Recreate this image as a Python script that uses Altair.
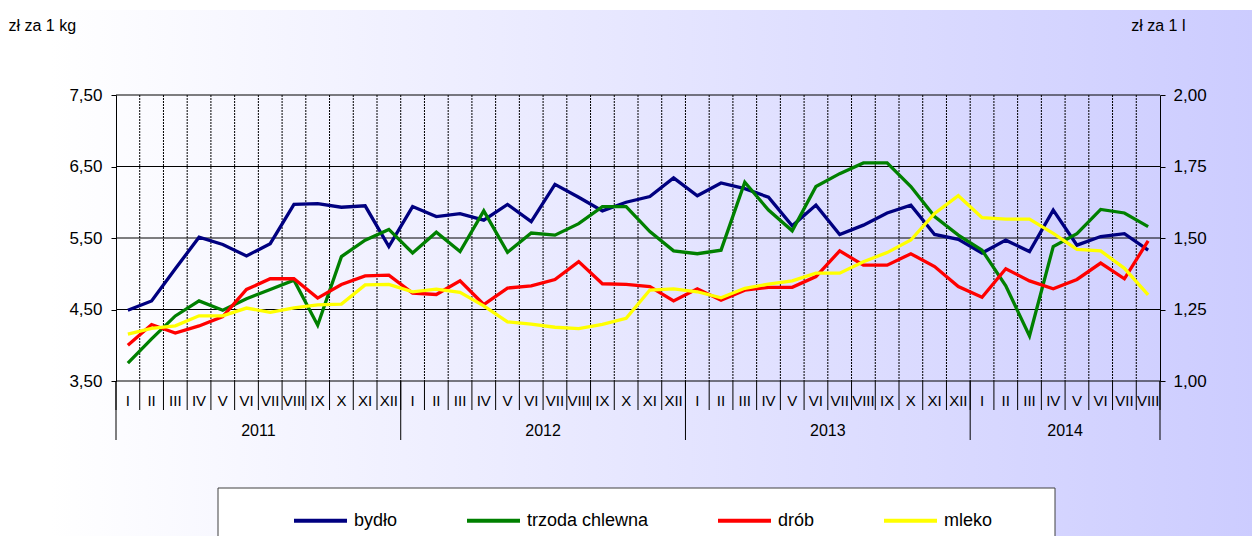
import altair as alt
import pandas as pd

# ---- data ----
month_names = ["I", "II", "III", "IV", "V", "VI", "VII", "VIII", "IX", "X", "XI", "XII"]
years = ["2011", "2012", "2013", "2014"]
months_per_year = [12, 12, 12, 8]

series_names = ["bydło", "trzoda chlewna", "drób", "mleko"]
series_colors = ["#000080", "#008000", "#ff0000", "#ffff00"]

bydlo = [4.49, 4.62, 5.07, 5.51, 5.41, 5.25, 5.42, 5.97, 5.98, 5.93, 5.95, 5.38,
         5.94, 5.80, 5.84, 5.75, 5.97, 5.73, 6.25, 6.07, 5.88, 6.00, 6.08, 6.34,
         6.09, 6.27, 6.19, 6.07, 5.67, 5.96, 5.55, 5.68, 5.85, 5.96, 5.55, 5.48,
         5.29, 5.47, 5.31, 5.89, 5.40, 5.52, 5.56, 5.33]
trzoda = [3.75, 4.09, 4.41, 4.62, 4.49, 4.65, 4.78, 4.91, 4.28, 5.24, 5.47, 5.62,
          5.29, 5.58, 5.31, 5.88, 5.30, 5.57, 5.54, 5.70, 5.94, 5.94, 5.59, 5.32,
          5.28, 5.33, 6.28, 5.89, 5.60, 6.22, 6.40, 6.55, 6.55, 6.22, 5.80, 5.54,
          5.33, 4.83, 4.13, 5.38, 5.56, 5.90, 5.85, 5.66]
drob = [4.00, 4.29, 4.17, 4.27, 4.40, 4.78, 4.93, 4.93, 4.66, 4.85, 4.97, 4.98,
        4.73, 4.71, 4.90, 4.57, 4.80, 4.83, 4.92, 5.17, 4.86, 4.85, 4.82, 4.62,
        4.79, 4.63, 4.77, 4.81, 4.81, 4.96, 5.32, 5.12, 5.12, 5.28, 5.10, 4.82,
        4.67, 5.07, 4.90, 4.79, 4.92, 5.15, 4.93, 5.46]
mleko = [1.164, 1.184, 1.193, 1.228, 1.228, 1.255, 1.240, 1.256, 1.266, 1.269, 1.336, 1.338,
         1.312, 1.321, 1.310, 1.263, 1.207, 1.199, 1.188, 1.183, 1.198, 1.219, 1.318, 1.322,
         1.312, 1.291, 1.324, 1.339, 1.350, 1.377, 1.377, 1.417, 1.449, 1.493, 1.586, 1.648,
         1.571, 1.566, 1.566, 1.516, 1.460, 1.455, 1.394, 1.301]

left_ticks = [3.5, 4.5, 5.5, 6.5, 7.5]
right_ticks = [1.0, 1.25, 1.5, 1.75, 2.0]

# ---- tables built from the lists ----
rows = []
for y, n in zip(years, months_per_year):
    for m in month_names[:n]:
        rows.append({"year": y, "month": m})
mdf = pd.DataFrame(rows)
mdf["pos"] = mdf.index + 0.5
N = len(mdf)

long_rows = []
for name, vals in zip(series_names, [bydlo, trzoda, drob, mleko]):
    for i, v in enumerate(vals):
        long_rows.append({"series": name, "pos": i + 0.5, "value": v})
ldf = pd.DataFrame(long_rows)

bounds_all = pd.DataFrame({"b": list(range(N + 1))})
bounds_inner = pd.DataFrame({"b": list(range(1, N))})
ycum = [0]
for n in months_per_year:
    ycum.append(ycum[-1] + n)
bounds_year = pd.DataFrame({"b": ycum})
gridy = pd.DataFrame({"g": left_ticks})
one = pd.DataFrame({"a": [0]})

W, H = 1044, 286
FONT = "Liberation Sans"
AX_FS = 17
TITLE_FS = 16
xscale = alt.Scale(domain=[0, N], nice=False, zero=False)
lscale = alt.Scale(domain=[3.5, 7.5], nice=False, zero=False)
rscale = alt.Scale(domain=[1.0, 2.0], nice=False, zero=False)
cscale = alt.Scale(domain=series_names, range=series_colors)
comma = "replace(format(datum.value, '.2f'), '.', ',')"

left_axis = alt.Axis(values=left_ticks, labelExpr=comma, grid=False, tickSize=5,
                     labelPadding=9, domainColor="black", tickColor="black",
                     labelColor="black", labelFont=FONT, labelFontSize=AX_FS, zindex=1,
                     title="zł za 1 kg", titleAngle=0, titleAlign="left",
                     titleBaseline="alphabetic", titleX=-108, titleY=-65,
                     titleFont=FONT, titleFontSize=TITLE_FS, titleFontWeight="normal",
                     titleColor="black")

grad = alt.LinearGradient(
    gradient="linear", x1=0, y1=0, x2=1, y2=0,
    stops=[alt.GradientStop(offset=0, color="#ffffff"),
           alt.GradientStop(offset=1, color="#ccccff")])

bg = alt.Chart(one).mark_rect(color=grad).encode(
    x=alt.value(-66), x2=alt.value(1140), y=alt.value(-85), y2=alt.value(445))

box = alt.Chart(one).mark_rect(fill="white", stroke="#404040", strokeWidth=1).encode(
    x=alt.value(102), x2=alt.value(939), y=alt.value(393), y2=alt.value(480))

vgrid = alt.Chart(bounds_inner).mark_rule(color="#000000", strokeWidth=1, strokeDash=[2, 1]).encode(
    x=alt.X("b:Q", scale=xscale, axis=None))

msep = alt.Chart(bounds_all).mark_rule(color="#000000", strokeWidth=1).encode(
    x=alt.X("b:Q", scale=xscale, axis=None), y=alt.value(H), y2=alt.value(315))

ysep = alt.Chart(bounds_year).mark_rule(color="#000000", strokeWidth=1).encode(
    x=alt.X("b:Q", scale=xscale, axis=None), y=alt.value(H), y2=alt.value(345))

mtxt = alt.Chart(mdf).mark_text(font=FONT, fontSize=15, baseline="middle", color="black").encode(
    x=alt.X("pos:Q", scale=xscale, axis=None), y=alt.value(306), text="month:N")

ytxt = alt.Chart(mdf).transform_aggregate(
    center="mean(pos)", groupby=["year"]
).mark_text(font=FONT, fontSize=16, baseline="middle", color="black").encode(
    x=alt.X("center:Q", scale=xscale, axis=None), y=alt.value(336), text="year:N")

hgrid = alt.Chart(gridy).mark_rule(color="#000000", strokeWidth=1).encode(
    y=alt.Y("g:Q", scale=lscale, axis=left_axis))

meat = alt.Chart(ldf).transform_filter("datum.series != 'mleko'").mark_line(strokeWidth=3.3).encode(
    x=alt.X("pos:Q", scale=xscale, axis=None),
    y=alt.Y("value:Q", scale=lscale, axis=left_axis),
    color=alt.Color("series:N", scale=cscale, sort=series_names,
                    legend=alt.Legend(title=None, orient="none", legendX=176, legendY=397,
                                      direction="horizontal", columns=4, columnPadding=61,
                                      symbolType="stroke", symbolSize=2809,
                                      symbolStrokeWidth=4, labelFont=FONT, labelFontSize=18,
                                      labelOffset=5, labelColor="black")),
    order="pos:Q")

left = alt.layer(hgrid, meat)

milk = alt.Chart(ldf).transform_filter("datum.series == 'mleko'").mark_line(strokeWidth=3.3).encode(
    x=alt.X("pos:Q", scale=xscale, axis=None),
    y=alt.Y("value:Q", scale=rscale,
            axis=alt.Axis(orient="right", values=right_ticks, labelExpr=comma, grid=False,
                          tickSize=5, labelPadding=8, domainColor="black", tickColor="black",
                          labelColor="black", labelFont=FONT, labelFontSize=AX_FS, zindex=1,
                          title="zł za 1 l", titleAngle=0, titleAlign="right",
                          titleBaseline="alphabetic", titleX=25, titleY=-65,
                          titleFont=FONT, titleFontSize=TITLE_FS, titleFontWeight="normal",
                          titleColor="black")),
    color=alt.Color("series:N", scale=cscale, sort=series_names),
    order="pos:Q")

chart = alt.layer(bg, box, vgrid, msep, ysep, mtxt, ytxt, left, milk).resolve_scale(
    y="independent"
).properties(
    width=W, height=H,
    autosize=alt.AutoSizeParams(type="none"),
    padding={"left": 108, "top": 87, "right": 92, "bottom": 155},
    background="white",
).configure_view(strokeWidth=0)

chart.save("out.html", embed_options={"renderer": "svg", "actions": False})
